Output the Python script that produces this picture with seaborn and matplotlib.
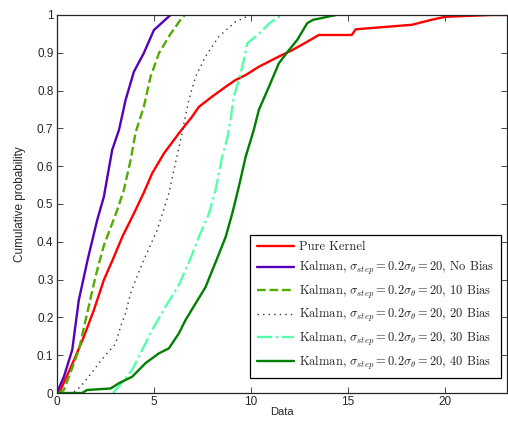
#!/usr/bin/env python
# coding: utf-8

# CDF 对比图：Pure Kernel vs Kalman (不同 bias)
# 数值是从原图上目测读出来的，大概齐

import numpy as np
import pandas as pd
import seaborn as sns
import matplotlib.pyplot as plt

sns.set_style("ticks")
plt.rcParams["font.family"] = ["Liberation Sans", "DejaVu Sans"]
plt.rcParams["mathtext.fontset"] = "cm"

# 每条曲线：横坐标 (Data) 和对应的累积概率
kernel_x = [0.0, 0.19, 0.88, 1.39, 1.91, 2.42, 2.94, 3.37, 3.97, 4.48, 4.91, 5.52, 6.29,
            6.97, 7.32, 8.0, 8.7, 9.21, 9.73, 10.41, 11.44, 12.13, 12.9, 13.5, 15.2,
            15.4, 18.3, 19.3, 20.0, 22.4, 23.3]
kernel_p = [0.0, 0.008, 0.087, 0.149, 0.22, 0.299, 0.36, 0.413, 0.475, 0.53, 0.581, 0.634,
            0.687, 0.731, 0.757, 0.784, 0.81, 0.828, 0.841, 0.863, 0.89, 0.907, 0.929,
            0.947, 0.947, 0.962, 0.974, 0.987, 0.995, 1.0, 1.0]

nobias_x = [0.0, 0.02, 0.36, 0.79, 1.13, 1.6, 2.08, 2.42, 2.85, 3.2, 3.37, 3.54,
            3.97, 4.48, 5.0, 5.86]
nobias_p = [0.0, 0.003, 0.043, 0.114, 0.246, 0.356, 0.458, 0.519, 0.643, 0.696,
            0.735, 0.775, 0.85, 0.899, 0.96, 1.0]

bias10_x = [0.1, 0.36, 0.62, 1.13, 1.56, 2.0, 2.42, 3.11, 3.45, 3.8, 4.06, 4.48,
            4.83, 5.26, 5.86, 6.37, 6.6]
bias10_p = [0.0, 0.008, 0.043, 0.114, 0.211, 0.31, 0.39, 0.484, 0.537, 0.616,
            0.69, 0.757, 0.837, 0.899, 0.95, 0.987, 1.0]

bias20_x = [0.6, 0.88, 1.22, 1.91, 2.16, 2.59, 3.02, 3.28, 3.54, 3.8, 4.06, 4.48,
            5.17, 5.77, 6.46, 6.8, 7.15, 7.66, 8.35, 9.21, 9.98]
bias20_p = [0.0, 0.003, 0.017, 0.061, 0.079, 0.105, 0.13, 0.175, 0.211, 0.264, 0.299,
            0.352, 0.431, 0.528, 0.69, 0.775, 0.837, 0.89, 0.943, 0.982, 1.0]

bias30_x = [2.9, 3.45, 3.88, 4.4, 4.91, 5.6, 6.29, 6.89, 7.32, 7.84, 8.18, 8.52, 8.78,
            8.95, 9.12, 9.38, 9.64, 9.81, 10.41, 11.0, 11.6]
bias30_p = [0.0, 0.034, 0.061, 0.114, 0.167, 0.228, 0.286, 0.356, 0.413, 0.475, 0.537,
            0.625, 0.674, 0.722, 0.784, 0.828, 0.881, 0.925, 0.95, 0.98, 1.0]

bias40_x = [0.0, 1.3, 1.56, 2.77, 3.2, 3.88, 4.57, 5.26, 5.77, 6.29, 6.63, 7.15, 7.66,
            8.26, 8.7, 9.04, 9.38, 9.73, 10.15, 10.41, 10.93, 11.44, 11.96, 12.39,
            12.9, 13.2, 14.4]
bias40_p = [0.0, 0.0, 0.008, 0.012, 0.026, 0.043, 0.079, 0.105, 0.118, 0.158, 0.193,
            0.237, 0.28, 0.356, 0.413, 0.475, 0.546, 0.625, 0.696, 0.749, 0.81,
            0.872, 0.907, 0.934, 0.978, 0.987, 1.0]

kal = r"Kalman, $\sigma_{step} = 0.2\sigma_\theta = 20$, "
labels = ["Pure Kernel", kal + "No Bias", kal + "10 Bias",
          kal + "20 Bias", kal + "30 Bias", kal + "40 Bias"]

series = [
    (kernel_x, kernel_p, "#ff0000", "-", 1.7),
    (nobias_x, nobias_p, "#5500bb", "-", 1.7),
    (bias10_x, bias10_p, "#55aa00", "--", 1.7),
    (bias20_x, bias20_p, "#333333", (0, (1, 3)), 1.0),
    (bias30_x, bias30_p, "#55ffaa", "-.", 1.7),
    (bias40_x, bias40_p, "#007f00", "-", 1.7),
]

fig = plt.figure(figsize=(5.08, 4.21), dpi=100)
ax = fig.add_axes([0.112, 0.0665, 0.886, 0.898])

for (xs, ps, color, ls, lw), label in zip(series, labels):
    df = pd.DataFrame({"Data": xs, "p": ps})
    sns.lineplot(data=df, x="Data", y="p", ax=ax, color=color, linestyle=ls,
                 linewidth=lw, label=label, sort=False, estimator=None)

ax.set_xlim(0, 23.2)
ax.set_ylim(0, 1)
ax.set_xticks([0, 5, 10, 15, 20])
ax.set_yticks(np.arange(0, 11) / 10)
ax.set_yticklabels(["0"] + [f"0.{i}" for i in range(1, 10)] + ["1"])
ax.set_xlabel("Data", fontsize=8, labelpad=-1)
ax.set_ylabel("Cumulative probability", fontsize=8.5, labelpad=8)
ax.tick_params(direction="in", top=True, right=True, labelsize=8.5, length=4, width=0.6, pad=2.5)
for s in ax.spines.values():
    s.set_visible(True)
    s.set_linewidth(0.9)

leg = ax.legend(loc="lower right", bbox_to_anchor=(0.986, 0.04), borderaxespad=0,
                fancybox=False, framealpha=1, edgecolor="black", handlelength=3.0,
                handletextpad=0.4, labelspacing=0.45, borderpad=0.5,
                prop={"family": "cmr10", "size": 9})
leg.get_frame().set_linewidth(0.9)

fig.savefig("out.png", dpi=100)
